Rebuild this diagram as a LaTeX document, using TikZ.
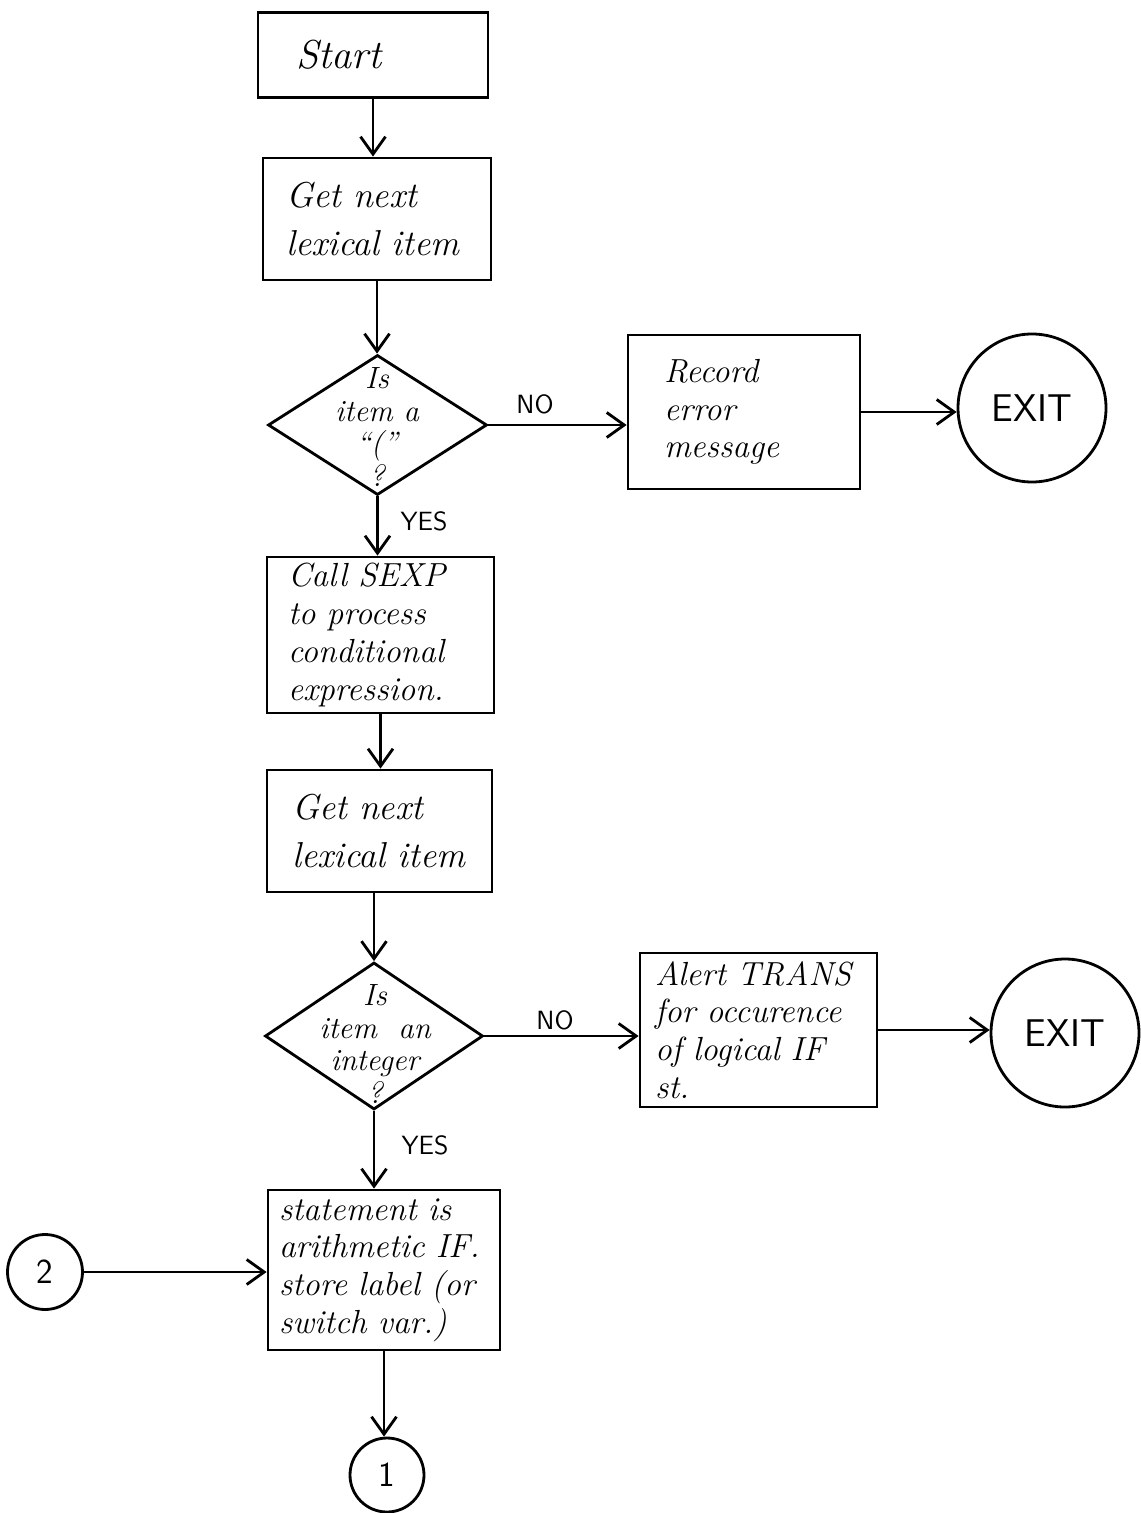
\documentclass[tikz,border=0pt]{standalone}
\usetikzlibrary{shapes.geometric,arrows.meta}
\newcommand\hand{\fontsize{19}{21.5}\selectfont\itshape}
\newcommand\handbig{\fontsize{20.5}{27}\selectfont\itshape}
\newcommand\handsm{\fontsize{17.5}{18.5}\selectfont\itshape}
\newcommand\labfont{\fontsize{15}{17}\selectfont\sffamily}
\newcommand\exitfont{\fontsize{22}{24}\selectfont\sffamily}
\newcommand\pw[1]{#1*0.02cm}
\begin{document}
\begin{tikzpicture}[x=0.02cm,y=-0.02cm,
  every node/.style={inner sep=0pt},
  ln/.style={line width=1.6pt},
  box/.style={draw, ln, rectangle, align=left, font=\hand},
  dia/.style={draw, ln, diamond, minimum width=\pw{219}, minimum height=\pw{140}},
  diatext/.style={align=center, font=\handsm},
  circ/.style={draw, ln, circle},
  arr/.style={ln, -{Straight Barb[length=3.5mm,width=5mm]}},
  lab/.style={font=\labfont}]
\useasboundingbox (0,0) rectangle (1140,1513);

% boxes
\node[box, font=\fontsize{23}{26}\selectfont\itshape, minimum width=\pw{230}, minimum height=\pw{85}, text width=\pw{154}] (start) at (373,55) {Start};
\node[box, font=\handbig, minimum width=\pw{228}, minimum height=\pw{122}, text width=\pw{182}] (get1) at (377,219) {Get next\\\mbox{lexical item}};
\node[dia] (d1) at (377.5,425) {};
\node[diatext] (d1t) at (377,427) {Is\\item a\\``(''\\?};
\node[box, minimum width=\pw{232}, minimum height=\pw{154}, text width=\pw{160}] (rec) at (744,412) {Record\\error\\message};
\node[circ, minimum size=\pw{148}, font=\exitfont] (exit1) at (1032,408) {EXIT};
\node[box, minimum width=\pw{227}, minimum height=\pw{156}, text width=\pw{185}] (sexp) at (380.5,635) {Call SEXP\\to process\\conditional\\expression.};
\node[box, font=\handbig, minimum width=\pw{225}, minimum height=\pw{122}, text width=\pw{175}] (get2) at (379.5,831) {Get next\\\mbox{lexical item}};
\node[dia, minimum width=\pw{218}, minimum height=\pw{147}] (d2) at (374,1036) {};
\node[diatext] (d2t) at (375,1044) {Is\\item\ \ an\\integer\\?};
\node[box, minimum width=\pw{237}, minimum height=\pw{154}, text width=\pw{207}] (alert) at (758.5,1030) {Alert TRANS\\for occurence\\of logical IF\\st.};
\node[circ, minimum size=\pw{148}, font=\exitfont] (exit2) at (1065,1033) {EXIT};
\node[box, minimum width=\pw{232}, minimum height=\pw{160}, text width=\pw{210}] (stmt) at (384,1270) {statement is\\arithmetic IF.\\store label (or\\switch var.)};
\node[circ, minimum size=\pw{75}, font=\fontsize{20}{22}\selectfont\sffamily] (c2) at (45,1272) {2};
\node[circ, minimum size=\pw{74}, font=\fontsize{20}{22}\selectfont\sffamily] (c1) at (387,1475) {1};

% labels
\node[lab] (no1) at (535,404) {NO};
\node[lab] (yes1) at (424,521) {YES};
\node[lab] (no2) at (555,1020) {NO};
\node[lab] (yes2) at (425,1145) {YES};

% connectors
\draw[arr] (start.south) -- (start.south |- get1.north);
\draw[arr] (get1.south) -- (get1.south |- d1.north);
\draw[arr] (d1.east) -- (d1.east -| rec.west);
\draw[arr] (rec.east) -- (rec.east -| exit1.west);
\draw[arr] (d1.south) -- (d1.south |- sexp.north);
\draw[arr] (sexp.south) -- (sexp.south |- get2.north);
\draw[arr] (d2.north |- get2.south) -- (d2.north);
\draw[arr] (d2.east) -- (d2.east -| alert.west);
\draw[arr] (alert.east) -- (alert.east -| exit2.west);
\draw[arr] (d2.south) -- (d2.south |- stmt.north);
\draw[arr] (c2.east) -- (c2.east -| stmt.west);
\draw[arr] (stmt.south) -- (stmt.south |- c1.north);
\end{tikzpicture}
\end{document}
